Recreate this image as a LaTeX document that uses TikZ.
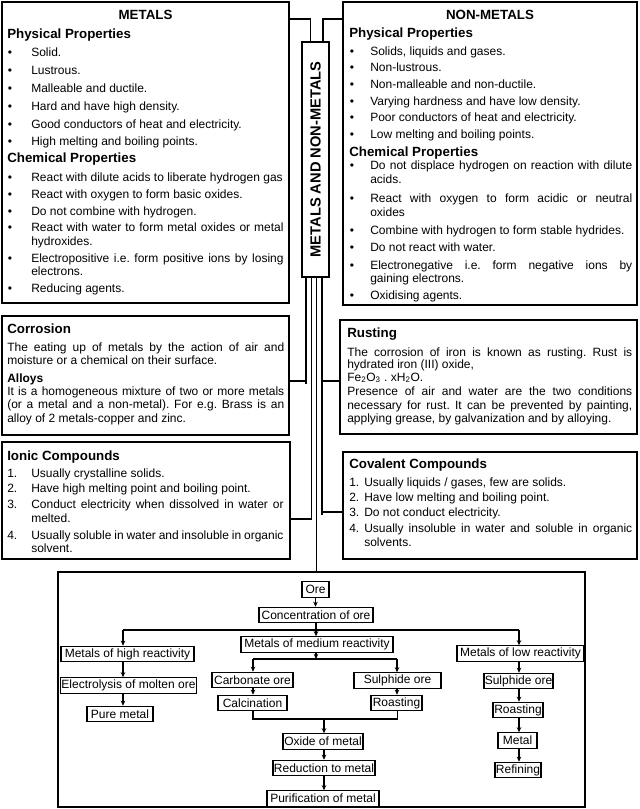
\documentclass[tikz,border=0pt]{standalone}
\usepackage{fontspec}
\setmainfont{Liberation Sans}
\usetikzlibrary{arrows.meta}
\frenchspacing
\newlength\pxl
\setlength\pxl{0.75pt}
\newcommand\jline[2]{\makebox[#1\pxl][s]{#2}}
\begin{document}
\begin{tikzpicture}[x=0.75pt,y=-0.75pt,
  frame/.style={draw, line width=0.8pt, inner sep=0pt, outer sep=0pt, anchor=north west},
  txt/.style={anchor=base west, inner sep=0pt, font=\fontsize{9}{11}\selectfont},
  hd/.style={anchor=base west, inner sep=0pt, font=\bfseries\fontsize{10}{12}\selectfont},
  hds/.style={anchor=base west, inner sep=0pt, font=\bfseries\fontsize{9}{11}\selectfont},
  bul/.style={anchor=base, inner sep=0pt, font=\fontsize{9}{11}\selectfont},
  fc/.style={draw, line width=0.8pt, inner xsep=0.5pt, inner ysep=0pt, minimum height=11.6pt, font=\fontsize{9}{11}\selectfont},
  arr/.style={-{Stealth[length=3.8pt,width=3.4pt]}, line width=0.8pt},
  con/.style={line width=0.8pt}
]
\useasboundingbox (0,0) rectangle (639,809);

% ---------- frames ----------
\node[frame, minimum width=287\pxl, minimum height=301\pxl] (metals) at (2,2) {};
\node[frame, minimum width=294\pxl, minimum height=303\pxl] (nonmetals) at (343,2) {};
\node[frame, minimum width=27\pxl, minimum height=235\pxl] (central) at (302,42) {};
\node[frame, minimum width=287\pxl, minimum height=119\pxl] (corrosion) at (2,316) {};
\node[frame, minimum width=297\pxl, minimum height=114\pxl] (rusting) at (340,320) {};
\node[frame, minimum width=288\pxl, minimum height=117\pxl] (ionic) at (2,442) {};
\node[frame, minimum width=294\pxl, minimum height=107\pxl] (covalent) at (343,452) {};
\node[frame, minimum width=527\pxl, minimum height=235\pxl] (bottom) at (58,572) {};

\node[rotate=90, inner sep=0pt, font=\bfseries\fontsize{11}{13}\selectfont] (ctitle) at (315.5,159.5) {METALS AND NON-METALS};

% ---------- connectors between boxes ----------
\coordinate (j1) at (310.5,19);
\coordinate (j2) at (323,19);
\draw[con] (metals.east |- j1) -- (j1) -- (j1 |- central.north);
\draw[con] (central.north -| j2) -- (j2) -- (j2 -| nonmetals.west);
\coordinate (v1) at (306,381);
\coordinate (v1e) at (306,384);
\coordinate (v2) at (311.5,519);
\coordinate (v3) at (316.5,572);
\coordinate (v4a) at (322,381);
\coordinate (v4b) at (322,512);
\coordinate (v4e) at (322,515);
\draw[con] (central.south -| v1) -- (v1e);
\draw[con] (v1) -- (v1 -| corrosion.east);
\draw[con] (central.south -| v2) -- (v2) -- (v2 -| ionic.east);
\draw[con] (central.south -| v3) -- (bottom.north -| v3);
\draw[con] (central.south -| v4a) -- (v4e);
\draw[con] (v4b) -- (v4b -| covalent.west);
\draw[con] (v4a) -- (v4a -| rusting.west);

% ---------- METALS ----------
\node[hd, anchor=base] (mtitle) at (145.5,19.3) {METALS};
\node[hd] (mphys) at (7,38.8) {Physical Properties};
\node[bul] (mb1) at (10,57) {•};    \node[txt] (mp1) at (31,57) {Solid.};
\node[bul] (mb2) at (10,75) {•};    \node[txt] (mp2) at (31,75) {Lustrous.};
\node[bul] (mb3) at (10,92.6) {•};  \node[txt] (mp3) at (31,92.6) {Malleable and ductile.};
\node[bul] (mb4) at (10,110.3) {•}; \node[txt] (mp4) at (31,110.3) {Hard and have high density.};
\node[bul] (mb5) at (10,128.3) {•}; \node[txt] (mp5) at (31,128.3) {Good conductors of heat and electricity.};
\node[bul] (mb6) at (10,146) {•};   \node[txt] (mp6) at (31,146) {High melting and boiling points.};
\node[hd] (mchem) at (7,163) {Chemical Properties};
\node[bul] (mc1b) at (10,182) {•}; \node[txt] (mc1) at (31,182) {React with dilute acids to liberate hydrogen gas};
\node[bul] (mc2b) at (10,198.6) {•}; \node[txt] (mc2) at (31,198.6) {React with oxygen to form basic oxides.};
\node[bul] (mc3b) at (10,215.3) {•}; \node[txt] (mc3) at (31,215.3) {Do not combine with hydrogen.};
\node[bul] (mc4b) at (10,232) {•};   \node[txt] (mc4) at (31,232) {\jline{252.3}{React with water to form metal oxides or metal}};
\node[txt] (mc4x) at (31,245.5) {hydroxides.};
\node[bul] (mc5b) at (10,262) {•}; \node[txt] (mc5) at (31,262) {\jline{252.3}{Electropositive i.e. form positive ions by losing}};
\node[txt] (mc5x) at (31,275.5) {electrons.};
\node[bul] (mc6b) at (10,292.5) {•}; \node[txt] (mc6) at (31,292.5) {Reducing agents.};

% ---------- NON-METALS ----------
\node[hd, anchor=base] (ntitle) at (490,19.8) {NON-METALS};
\node[hd] (nphys) at (349,38) {Physical Properties};
\node[bul] (nb1) at (352,55.3) {•};  \node[txt] (np1) at (370,55.3) {Solids, liquids and gases.};
\node[bul] (nb2) at (352,72) {•};    \node[txt] (np2) at (370,72) {Non-lustrous.};
\node[bul] (nb3) at (352,88.7) {•};  \node[txt] (np3) at (370,88.7) {Non-malleable and non-ductile.};
\node[bul] (nb4) at (352,105.3) {•}; \node[txt] (np4) at (370,105.3) {Varying hardness and have low density.};
\node[bul] (nb5) at (352,122) {•};   \node[txt] (np5) at (370,122) {Poor conductors of heat and electricity.};
\node[bul] (nb6) at (352,138.7) {•}; \node[txt] (np6) at (370,138.7) {Low melting and boiling points.};
\node[hd] (nchem) at (349,156.5) {Chemical Properties};
\node[bul] (nc1b) at (352,170) {•}; \node[txt] (nc1) at (370,170) {\jline{262}{Do not displace hydrogen on reaction with dilute}};
\node[txt] (nc1x) at (370,184) {acids.};
\node[bul] (nc2b) at (352,203) {•}; \node[txt] (nc2) at (370,203) {\jline{262}{React with oxygen to form acidic or neutral}};
\node[txt] (nc2x) at (370,216.5) {oxides};
\node[bul] (nc3b) at (352,234.5) {•}; \node[txt] (nc3) at (370,234.5) {Combine with hydrogen to form stable hydrides.};
\node[bul] (nc4b) at (352,251) {•};   \node[txt] (nc4) at (370,251) {Do not react with water.};
\node[bul] (nc5b) at (352,269) {•}; \node[txt] (nc5) at (370,269) {\jline{262}{Electronegative i.e. form negative ions by}};
\node[txt] (nc5x) at (370,282.5) {gaining electrons.};
\node[bul] (nc6b) at (352,299.3) {•}; \node[txt] (nc6) at (370,299.3) {Oxidising agents.};

% ---------- Corrosion / Alloys ----------
\node[hd] (corh) at (7,333) {Corrosion};
\node[txt] (cor1) at (7,351.6) {\jline{277}{The eating up of metals by the action of air and}};
\node[txt] (cor2) at (7,364.3) {moisture or a chemical on their surface.};
\node[hds] (alh) at (7,382.6) {Alloys};
\node[txt] (al1) at (7,395.3) {\jline{277}{It is a homogeneous mixture of two or more metals}};
\node[txt] (al2) at (7,408.6) {\jline{277}{(or a metal and a non-metal). For e.g. Brass is an}};
\node[txt] (al3) at (7,422.3) {alloy of 2 metals-copper and zinc.};

% ---------- Rusting ----------
\node[hd] (rush) at (347,337.5) {Rusting};
\node[txt] (rus1) at (347,356) {\jline{285}{The corrosion of iron is known as rusting. Rust is}};
\node[txt] (rus2) at (347,368.5) {hydrated iron (III) oxide,};
\node[txt] (rus3) at (347,381) {Fe\textsubscript{2}O\textsubscript{3} . xH\textsubscript{2}O.};
\node[txt] (rus4) at (347,395.5) {\jline{285}{Presence of air and water are the two conditions}};
\node[txt] (rus5) at (347,409) {\jline{285}{necessary for rust. It can be prevented by painting,}};
\node[txt] (rus6) at (347,422.5) {applying grease, by galvanization and by alloying.};

% ---------- Ionic ----------
\node[hd] (ionh) at (7,460.5) {Ionic Compounds};
\node[txt] (ion1n) at (7,477) {1.}; \node[txt] (ion1) at (31,477) {Usually crystalline solids.};
\node[txt] (ion2n) at (7,492) {2.}; \node[txt] (ion2) at (31,492) {Have high melting point and boiling point.};
\node[txt] (ion3n) at (7,508.6) {3.}; \node[txt] (ion3) at (31,508.6) {\jline{252.3}{Conduct electricity when dissolved in water or}};
\node[txt] (ion3x) at (31,522.6) {melted.};
\node[txt] (ion4n) at (7,539.3) {4.}; \node[txt] (ion4) at (31,539.3) {\jline{252.3}{Usually soluble in water and insoluble in organic}};
\node[txt] (ion4x) at (31,552.6) {solvent.};

% ---------- Covalent ----------
\node[hd] (covh) at (349,468.8) {Covalent Compounds};
\node[txt] (cov1n) at (349,486) {1.}; \node[txt] (cov1) at (364,486) {Usually liquids / gases, few are solids.};
\node[txt] (cov2n) at (349,501) {2.}; \node[txt] (cov2) at (364,501) {Have low melting and boiling point.};
\node[txt] (cov3n) at (349,516) {3.}; \node[txt] (cov3) at (364,516) {Do not conduct electricity.};
\node[txt] (cov4n) at (349,532.6) {4.}; \node[txt] (cov4) at (364,532.6) {\jline{268}{Usually insoluble in water and soluble in organic}};
\node[txt] (cov4x) at (364,546) {solvents.};

% ---------- flowchart ----------
\node[fc, minimum width=27\pxl]  (ore)    at (315.5,589.5) {Ore};
\node[fc, minimum width=114\pxl] (conc)   at (316,615) {Concentration of ore};
\node[fc, minimum width=152\pxl] (med)    at (317,644.5) {Metals of medium reactivity};
\node[fc, minimum width=133\pxl] (high)   at (127.5,654) {Metals of high reactivity};
\node[fc, minimum width=127\pxl] (low)    at (520.5,653.5) {Metals of low reactivity};
\node[fc, minimum width=135\pxl] (elec)   at (128.5,685.5) {Electrolysis of molten ore};
\node[fc, minimum width=66\pxl]  (pure)   at (120,714) {Pure metal};
\node[fc, minimum width=81\pxl]  (carb)   at (252.5,680) {Carbonate ore};
\node[fc, minimum width=69\pxl]  (calc)   at (252.5,703) {Calcination};
\node[fc, minimum width=87\pxl]  (sulm)   at (397.5,680.5) {Sulphide ore};
\node[fc, minimum width=51\pxl]  (roastm) at (396.5,703) {Roasting};
\node[fc, minimum width=80\pxl]  (oxide)  at (323,741.5) {Oxide of metal};
\node[fc, minimum width=102\pxl] (reduc)  at (324,768) {Reduction to metal};
\node[fc, minimum width=112\pxl] (purif)  at (323,798.5) {Purification of metal};
\node[fc, minimum width=69\pxl]  (sull)   at (518.5,681) {Sulphide ore};
\node[fc, minimum width=50\pxl]  (roastl) at (518,710) {Roasting};
\node[fc, minimum width=39\pxl]  (metal)  at (517.5,740.5) {Metal};
\node[fc, minimum width=46\pxl]  (refin)  at (518,770) {Refining};

\draw[arr] (ore.south) -- (ore.south |- conc.north);
\draw[arr] (conc.south) -- (conc.south |- med.north);
\coordinate (bl) at (123,630);
\coordinate (br) at (519,630);
\draw[con] (bl) -- (br);
\draw[arr] (bl) -- (bl |- high.north);
\draw[arr] (br) -- (br |- low.north);
\draw[arr] (high.south -| bl) -- (elec.north -| bl);
\draw[arr] (elec.south -| bl) -- (pure.north -| bl);
\coordinate (sb) at (316,659);
\coordinate (sbl) at (253,659);
\coordinate (sbr) at (397,659);
\draw[arr] (med.south -| sb) -- (sb);
\draw[con] (sbl) -- (sbr);
\draw[arr] (sbl) -- (sbl |- carb.north);
\draw[arr] (sbr) -- (sbr |- sulm.north);
\draw[arr] (carb.south -| sbl) -- (calc.north -| sbl);
\draw[arr] (sulm.south -| sbr) -- (roastm.north -| sbr);
\coordinate (jl) at (253,719);
\coordinate (jr) at (397.5,719);
\coordinate (jm) at (324,719);
\draw[con] (calc.south -| jl) -- (jl) -- (jr) -- (roastm.south -| jr);
\draw[arr] (jm) -- (oxide.north -| jm);
\draw[arr] (oxide.south -| jm) -- (reduc.north -| jm);
\draw[arr] (reduc.south -| jm) -- (purif.north -| jm);
\draw[arr] (low.south -| br) -- (sull.north -| br);
\draw[arr] (sull.south -| br) -- (roastl.north -| br);
\draw[arr] (roastl.south -| br) -- (metal.north -| br);
\draw[arr] (metal.south -| br) -- (refin.north -| br);
\end{tikzpicture}
\end{document}
